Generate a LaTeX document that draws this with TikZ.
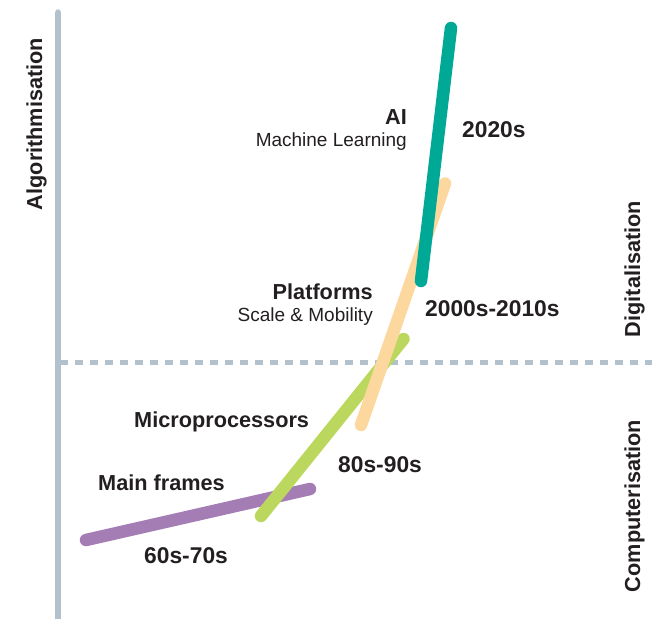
\documentclass[tikz,border=0pt]{standalone}
\usepackage{fontspec}
\setmainfont{Liberation Sans}
\definecolor{axisgray}{RGB}{178,193,203}
\definecolor{mfpurple}{RGB}{165,125,181}
\definecolor{mpgreen}{RGB}{188,215,94}
\definecolor{plpeach}{RGB}{253,216,158}
\definecolor{aiteal}{RGB}{0,168,150}
\definecolor{txt}{RGB}{35,31,32}
\tikzset{
  axisline/.style={draw=axisgray,line width=5.5pt},
  divline/.style={draw=axisgray,line width=5pt,dash pattern=on 8pt off 7pt},
  era/.style={line width=12.5pt,line cap=round},
  sidelab/.style={rotate=90,anchor=base,inner sep=0pt,text=txt,font=\fontsize{21.7}{26}\selectfont\bfseries},
  title/.style={inner sep=0pt,text=txt,font=\fontsize{21.7}{26}\selectfont\bfseries},
  sub/.style={inner sep=0pt,text=txt,font=\fontsize{19}{23}\selectfont},
  yr/.style={inner sep=0pt,text=txt,font=\fontsize{22.8}{27}\selectfont\bfseries},
}
\begin{document}
\begin{tikzpicture}[x=1pt,y=-1pt]
\useasboundingbox (0,0) rectangle (652,619);
% axis and divider
\coordinate (axtop) at (58,12);
\coordinate (axbot) at (58,619);
\draw[axisline] (axbot) -- (axtop);
\fill[axisgray] (axtop) circle (2.75pt);
\coordinate (dvl) at (60,362);
\coordinate (dvr) at (652,362);
\draw[divline] (dvl) -- (dvr);
% eras
\coordinate (mf1) at (86,540);
\coordinate (mf2) at (310,489);
\coordinate (mp1) at (261,516);
\coordinate (mp2) at (403.5,339);
\coordinate (pl1) at (361,425);
\coordinate (pl2) at (445,183.5);
\coordinate (ai1) at (421,281);
\coordinate (ai2) at (451,28);
\draw[era,draw=mfpurple] (mf1) -- (mf2);
\draw[era,draw=mpgreen] (mp1) -- (mp2);
\draw[era,draw=plpeach] (pl1) -- (pl2);
\draw[era,draw=aiteal] (ai1) -- (ai2);
% side labels
\node[sidelab] (alg) at (42,124) {Algorithmisation};
\node[sidelab] (dig) at (640,269) {Digitalisation};
\node[sidelab] (comp) at (640,506) {Computerisation};
% titles
\node[title,anchor=base east] (ailab) at (407,124) {AI};
\node[sub,anchor=base east] (aisub) at (407,146) {Machine Learning};
\node[title,anchor=base east] (pllab) at (373,299) {Platforms};
\node[sub,anchor=base east] (plsub) at (373,321) {Scale \& Mobility};
\node[title,anchor=base west] (mplab) at (134,427) {Microprocessors};
\node[title,anchor=base west] (mflab) at (98,490) {Main frames};
% years
\node[yr,anchor=base west] (y20) at (462,137) {2020s};
\node[yr,anchor=base west] (y00) at (425,316) {2000s-2010s};
\node[yr,anchor=base west] (y80) at (338,472) {80s-90s};
\node[yr,anchor=base west] (y60) at (144,563) {60s-70s};
\end{tikzpicture}
\end{document}
